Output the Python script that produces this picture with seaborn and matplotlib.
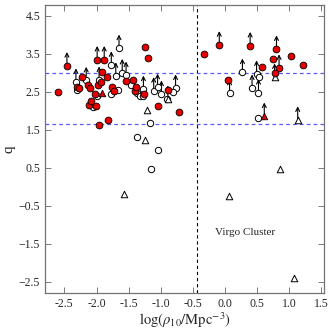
import numpy as np
import matplotlib
matplotlib.use("Agg")
import matplotlib.pyplot as plt
import seaborn as sns

# red filled circles: x, y, lower-limit flag
red_x = [-2.60, -2.46, -2.31, -2.27, -2.23, -2.14, -2.10, -2.12, -2.09, -2.01,
         -2.02, -1.99, -1.88, -1.98, -1.93, -1.92, -1.96, -1.82, -1.83, -1.76,
         -1.73, -1.54, -1.43, -1.40, -1.39, -1.26, -1.25, -1.20, -1.04, -0.88,
         -0.71, -0.33, -0.09, 0.05, 0.39, 0.58, 0.74, 0.80, 0.84, 0.78, 1.03, 1.21]
red_y = [2.50, 3.19, 2.62, 2.61, 2.89, 2.68, 2.61, 2.15, 2.25, 2.13,
         2.45, 3.35, 3.35, 2.67, 2.75, 3.03, 1.63, 1.75, 2.90, 2.62,
         2.53, 2.79, 2.81, 2.53, 2.62, 2.45, 3.67, 3.38, 2.13, 2.55,
         1.97, 3.49, 3.74, 2.82, 3.72, 3.16, 3.37, 3.63, 3.13, 3.00, 3.44, 3.20]
red_up = [0, 1, 0, 0, 0, 0, 0, 0, 0, 0,
          0, 1, 1, 0, 0, 0, 0, 0, 0, 0,
          0, 0, 0, 0, 0, 0, 0, 0, 0, 0,
          0, 0, 1, 0, 1, 0, 0, 1, 1, 0, 0, 0]

# open circles
open_x = [-2.32, -2.31, -2.16, -2.06, -1.99, -1.96, -1.77, -1.78, -1.70, -1.67,
          -1.65, -1.60, -1.54, -1.47, -1.37, -1.33, -1.27, -1.27, -1.17, -1.37,
          -1.04, -1.15, -1.11, -1.05, -0.99, -0.90, -0.77, -0.81,
          0.27, 0.07, 0.42, 0.52, 0.49, 0.53, 0.52]
open_y = [2.76, 2.56, 2.80, 2.11, 2.38, 2.81, 3.21, 2.45, 2.92, 2.55,
          3.65, 3.01, 2.94, 2.69, 2.47, 2.39, 2.38, 2.57, 1.69, 1.32,
          0.96, 0.47, 2.53, 2.62, 2.44, 2.31, 2.60, 2.50,
          3.02, 2.46, 2.60, 2.48, 2.97, 2.90, 1.81]
open_up = [1, 0, 1, 0, 0, 1, 1, 0, 1, 0,
           1, 1, 1, 0, 0, 0, 0, 1, 0, 0,
           0, 0, 1, 1, 1, 0, 1, 0,
           1, 1, 1, 1, 1, 0, 0]

# open triangles
tri_x = [-1.21, -1.24, -1.57, -0.89, 0.77, 1.13, 0.86, 0.06, 1.08]
tri_y = [2.01, 1.24, -0.18, 2.31, 2.89, 1.76, 0.47, -0.24, -2.40]
tri_up = [0, 0, 0, 1, 1, 1, 0, 0, 0]

# red triangles
rtri_x = [-1.91, 0.61]
rtri_y = [2.48, 1.86]
rtri_up = [0, 1]

x_ticks = [-2.5, -2.0, -1.5, -1.0, -0.5, 0.0, 0.5, 1.0, 1.5]
x_tick_labels = ["-2.5", "-2.0", "-1.5", "-1.0", "-0.5", "0.0", "0.5", "1.0", "1.5"]
y_ticks = [-2.5, -1.5, -0.5, 0.5, 1.5, 2.5, 3.5, 4.5]

virgo_x = -0.43
q_lines = [3.0, 1.65]

sns.set_style("ticks")
plt.rcParams["font.family"] = ["Liberation Serif", "DejaVu Serif"]
plt.rcParams["mathtext.fontset"] = "stix"
plt.rcParams["axes.unicode_minus"] = True

fig = plt.figure(figsize=(3.29, 3.29), dpi=100)
ax = fig.add_axes([0.137, 0.109, 0.848, 0.876])

ax.axvline(virgo_x, color="black", ls="--", lw=0.8, dashes=(3, 2.5), zorder=1)
for q in q_lines:
    ax.axhline(q, color="#5b5bf5", ls="--", lw=0.9, dashes=(3, 2.5), zorder=1)


def draw_arrows(xs, ys, flags):
    for xv, yv, f in zip(xs, ys, flags):
        if f:
            ax.annotate("", xy=(xv, yv + 0.36), xytext=(xv, yv),
                        arrowprops=dict(arrowstyle="->", color="black", lw=0.8,
                                        shrinkA=0, shrinkB=0, mutation_scale=7),
                        zorder=2)


draw_arrows(open_x, open_y, open_up)
draw_arrows(tri_x, tri_y, tri_up)
draw_arrows(red_x, red_y, red_up)
draw_arrows(rtri_x, rtri_y, rtri_up)

sns.scatterplot(x=open_x, y=open_y, marker="o", s=21, facecolor="white",
                edgecolor="black", linewidth=0.7, ax=ax, zorder=3)
sns.scatterplot(x=tri_x, y=tri_y, marker="^", s=22, facecolor="white",
                edgecolor="black", linewidth=0.7, ax=ax, zorder=3)
sns.scatterplot(x=red_x, y=red_y, marker="o", s=24, color="#e60000",
                edgecolor="black", linewidth=0.6, ax=ax, zorder=4)
sns.scatterplot(x=rtri_x, y=rtri_y, marker="^", s=22, color="#e60000",
                edgecolor="black", linewidth=0.6, ax=ax, zorder=4)

ax.text(0.31, -1.2, "Virgo Cluster", ha="center", va="center", fontsize=8)

ax.set_xlim(-2.8, 1.54)
ax.set_ylim(-2.8, 4.79)
ax.set_xticks(x_ticks)
ax.set_xticklabels(x_tick_labels)
ax.set_yticks(y_ticks)
ax.tick_params(direction="in", top=True, right=True, labelsize=8.5,
               length=4, width=0.6, color="0.4")
for sp in ax.spines.values():
    sp.set_color("0.45")
    sp.set_linewidth(0.9)

ax.set_xlabel(r"$\log(\rho_{10}/\mathrm{Mpc}^{-3})$", fontsize=10.5, labelpad=0)
ax.set_ylabel("q", fontsize=11, labelpad=2)

fig.savefig("out.png", dpi=100)
